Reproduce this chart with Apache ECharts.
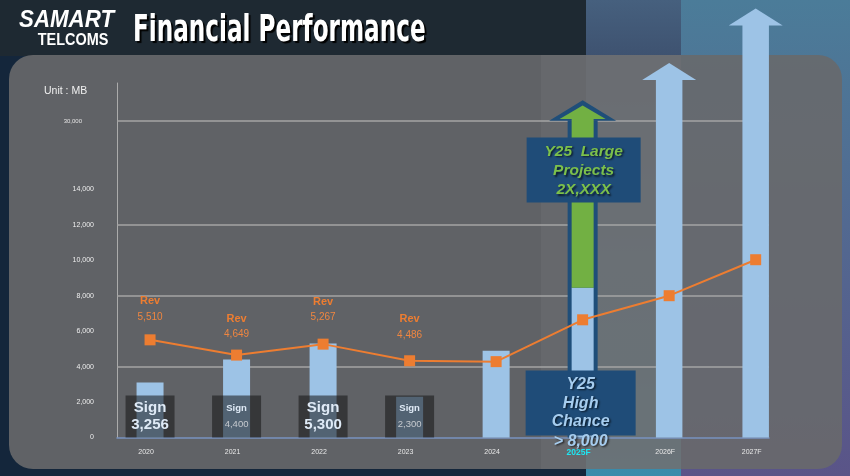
<!DOCTYPE html>
<html><head><meta charset="utf-8">
<script src="https://cdn.jsdelivr.net/npm/echarts@6/dist/echarts.min.js"></script>
<style>html,body{margin:0;padding:0;background:#14263b;}#c{width:850px;height:476px;}</style>
</head><body><div id="c"></div>
<script>
// ---- data ----
const categories = ['2020','2021','2022','2023','2024','2025F','2026F','2027F'];
const signValues = [3100, 4400, 5300, 2300, 4900];          // light-blue bars 2020-2024
const signLabels = ['3,256', '4,400', '5,300', '2,300'];
const revenue = [5510, 4649, 5267, 4330, 4280, 6640, 8000, 10030];
const revLabels = ['5,510', '4,649', '5,267', '4,486'];
const y25HighChance = 8450;     // light-blue part of 2025F arrow
const y25LargeTop = 18000;      // green part top of 2025F arrow
const y25OuterTop = 17900;      // dark-blue outline top
const forecastArrowIdx = [6, 7];
const forecastArrowTops = [20200, 23270];
const yTickValues = [0, 2000, 4000, 6000, 8000, 10000, 12000, 14000, 17860];
const yTickLabels = ['0', '2,000', '4,000', '6,000', '8,000', '10,000', '12,000', '14,000', '30,000'];
const gridLineValues = [4000, 8000, 12000, 17860];
const calloutTop = ['Y25  Large', 'Projects', '2X,XXX'];
const calloutBottom = ['Y25', 'High', 'Chance', '> 8,000'];

const FONT = '"Liberation Sans", Arial, sans-serif';
const BIG_SIGN = [0, 2];
const BLUE = '#9dc3e6', ORANGE = '#ed7d31', GREEN = '#72b043', NAVY = '#1f4e79';

const chart = echarts.init(document.getElementById('c'), null, {renderer: 'canvas'});

function arrow(api, idx, v0, v1, shaftW, headW, headH, color) {
  const p0 = api.coord([idx, v0]), p1 = api.coord([idx, v1]);
  const cx = p0[0];
  const els = [{type: 'rect', shape: {x: cx - shaftW / 2, y: p1[1], width: shaftW, height: p0[1] - p1[1]}, style: {fill: color}}];
  if (headW) els.push({type: 'polygon', shape: {points: [[cx - headW / 2, p1[1] + 0.5], [cx + headW / 2, p1[1] + 0.5], [cx, p1[1] - headH]]}, style: {fill: color}});
  return els;
}

function txt(text, x, y, size, color, weight, style, shadow) {
  const s = {text: text, x: x, y: y, align: 'center', verticalAlign: 'middle', textAlign: 'center', textVerticalAlign: 'middle',
    fill: color, font: (style || 'normal') + ' ' + (weight || 'normal') + ' ' + size + 'px ' + FONT};
  if (shadow) { s.textShadowColor = 'rgba(0,0,0,0.65)'; s.textShadowBlur = 2; s.textShadowOffsetX = 1.5; s.textShadowOffsetY = 1.5; }
  return {type: 'text', style: s};
}

const revDist = [9, 7, 13, 12];

const option = {
  animation: false,
  backgroundColor: 'transparent',
  graphic: [
    {type: 'rect', z: -20, shape: {x: 0, y: 0, width: 850, height: 476}, style: {fill: '#14263b'}},
    {type: 'rect', z: -19, shape: {x: 0, y: 0, width: 586, height: 56}, style: {fill: '#1e2932'}},
    {type: 'rect', z: -19, shape: {x: 586, y: 0, width: 95, height: 476},
      style: {fill: new echarts.graphic.LinearGradient(0, 0, 0, 1, [{offset: 0, color: '#46607e'}, {offset: 0.12, color: '#3e5270'}, {offset: 1, color: '#3a8cab'}])}},
    {type: 'rect', z: -19, shape: {x: 681, y: 0, width: 169, height: 476},
      style: {fill: new echarts.graphic.LinearGradient(0, 0, 0, 1, [{offset: 0, color: '#4b7c99'}, {offset: 1, color: '#5a5488'}])}},
    {type: 'rect', z: -18, shape: {x: 9, y: 55, width: 833, height: 414, r: 24}, style: {fill: 'rgba(104,105,107,0.9)'}},
    {type: 'rect', z: -17, shape: {x: 541, y: 55, width: 140, height: 414}, style: {fill: 'rgba(255,255,255,0.045)'}},
    {type: 'text', z: 10, x: 19, y: 21, scaleX: 0.97, style: {text: 'SAMART', x: 0, y: 0, align: 'left', verticalAlign: 'middle', textAlign: 'left', textVerticalAlign: 'middle',
      fill: '#ffffff', font: 'italic bold 23px ' + FONT}},
    {type: 'text', z: 10, x: 73, y: 40, scaleX: 0.85, style: {text: 'TELCOMS', x: 0, y: 0, align: 'center', verticalAlign: 'middle', textAlign: 'center', textVerticalAlign: 'middle',
      fill: '#ffffff', font: 'bold 17px ' + FONT}},
    {type: 'text', z: 10, x: 133, y: 31, scaleX: 0.735, scaleY: 1.05, style: {text: 'Financial Performance', x: 0, y: 0, align: 'left', verticalAlign: 'middle', textAlign: 'left', textVerticalAlign: 'middle',
      fill: '#ffffff', font: 'bold 35px "DejaVu Sans Condensed", "DejaVu Sans", sans-serif',
      textShadowColor: '#000', textShadowOffsetX: 2, textShadowOffsetY: 2, textShadowBlur: 1}},
    {type: 'text', z: 10, style: {text: 'Unit : MB', x: 44, y: 91, align: 'left', verticalAlign: 'middle', textAlign: 'left', textVerticalAlign: 'middle',
      fill: '#f0f0f0', font: '10.5px ' + FONT}}
  ],
  grid: {left: 117, right: 81, top: 83, bottom: 38.5, containLabel: false},
  xAxis: {
    type: 'value', min: -0.382, max: 7.154,
    splitLine: {show: false},
    axisTick: {show: false},
    axisLine: {show: true, onZero: false, lineStyle: {color: '#7893c0', width: 1.5}},
    axisLabel: {
      customValues: categories.map((c, i) => i),
      margin: 11, color: '#e8e8e8', fontSize: 7, fontFamily: FONT, padding: [0, 8, 0, 0],
      formatter: v => categories[Math.round(v)] === '2025F' ? '{f|2025F}' : '{n|' + categories[Math.round(v)] + '}',
      rich: {n: {fontSize: 7, color: '#e8e8e8', fontFamily: FONT}, f: {fontSize: 8.5, fontWeight: 'bold', color: '#1ee6f2', fontFamily: FONT}}
    }
  },
  yAxis: {
    type: 'value', min: 0, max: 20000,
    splitLine: {show: false},
    axisTick: {show: false},
    axisLine: {show: true, onZero: false, lineStyle: {color: '#ababab', width: 1}},
    axisLabel: {
      customValues: yTickValues, margin: 23, fontFamily: FONT,
      formatter: v => {
        const i = yTickValues.indexOf(v);
        return v === 17860 ? '{s|' + yTickLabels[i] + '}' : '{n|' + yTickLabels[i] + '}';
      },
      rich: {n: {fontSize: 7, color: '#eeeeee', fontFamily: FONT}, s: {fontSize: 6, color: '#e4e4e4', fontFamily: FONT, padding: [0, 12, 0, 0]}}
    }
  },
  series: [
    {
      name: 'Sign', type: 'bar', z: 2, barWidth: 27,
      itemStyle: {color: BLUE},
      data: signValues.map((v, i) => [i, v]),
      markLine: {
        silent: true, z: 1, symbol: ['none', 'none'], label: {show: false},
        lineStyle: {color: '#a4a4a4', width: 1.5, type: 'solid'},
        data: gridLineValues.map(v => ({yAxis: v}))
      }
    },
    {
      name: 'SignBox', type: 'custom', z: 3, silent: true,
      data: signLabels.map((s, i) => [i, 0]),
      renderItem: (params, api) => {
        const i = api.value(0);
        const p = api.coord([i, 0]);
        const cx = p[0], top = p[1] - 42;
        const big = BIG_SIGN.indexOf(i) >= 0;
        return {type: 'group', children: [
          {type: 'rect', shape: {x: cx - 24.5, y: top, width: 49, height: 42}, style: {fill: 'rgba(20,20,20,0.55)'}},
          txt('Sign', cx, top + 12.7, big ? 15 : 9.5, '#dfeaf6', 'bold'),
          txt(signLabels[i], cx, top + 29.3, big ? 15 : 9.5, big ? '#dfeaf6' : '#c6cacf', big ? 'bold' : 'normal')
        ]};
      }
    },
    {
      name: 'Forecast', type: 'custom', z: 3, silent: true, clip: false,
      data: forecastArrowIdx.map((x, i) => [x, forecastArrowTops[i]]),
      renderItem: (params, api) => ({type: 'group', children: arrow(api, api.value(0), 0, api.value(1), 26.5, 54, 16.5, BLUE)})
    },
    {
      name: 'Y25', type: 'custom', z: 3, silent: true, clip: false,
      data: [[5, y25OuterTop]],
      renderItem: (params, api) => {
        const i = api.value(0);
        const els = [].concat(
          arrow(api, i, 0, y25OuterTop, 30, 67, 20, NAVY),
          arrow(api, i, 0, y25HighChance, 22, 0, 0, BLUE),
          arrow(api, i, y25HighChance, y25LargeTop, 22, 46, 13, GREEN)
        );
        return {type: 'group', children: els};
      }
    },
    {
      name: 'Rev', type: 'line', z: 5,
      symbol: 'rect', symbolSize: 11,
      lineStyle: {color: ORANGE, width: 2},
      itemStyle: {color: ORANGE},
      data: revenue.map((v, i) => {
        const d = {value: [i, v]};
        if (i < revLabels.length) {
          d.label = {show: true, position: 'top', distance: revDist[i],
            formatter: '{a|Rev}\n{b|' + revLabels[i] + '}',
            rich: {a: {fontSize: 11, fontWeight: 'bold', color: ORANGE, lineHeight: 16, fontFamily: FONT},
                   b: {fontSize: 10, color: '#ef8640', lineHeight: 16, fontFamily: FONT}}};
        }
        return d;
      })
    },
    {
      name: 'Callouts', type: 'custom', z: 6, silent: true, clip: false,
      data: [[5, 0]],
      renderItem: (params, api) => {
        const p = api.coord([api.value(0), 0]);
        const cx = p[0], by = p[1];
        const t1 = by - 300, t2 = by - 67;
        const els = [
          {type: 'rect', shape: {x: cx - 56, y: t1, width: 114, height: 65}, style: {fill: '#1f4c78'}},
          {type: 'rect', shape: {x: cx - 57, y: t2, width: 110, height: 65}, style: {fill: '#1f4c78'}}
        ];
        const o1 = [14, 33.5, 52.5];
        calloutTop.forEach((s, k) => els.push(txt(s, cx + 1, t1 + o1[k], 15.5, '#7cc04b', 'bold', 'italic', true)));
        const o2 = [14, 32.7, 51, 70.7];
        calloutBottom.forEach((s, k) => els.push(txt(s, cx - 2, t2 + o2[k], 16, '#a6cdef', 'bold', 'italic', true)));
        return {type: 'group', children: els};
      }
    }
  ]
};
chart.setOption(option);
</script>
</body></html>
